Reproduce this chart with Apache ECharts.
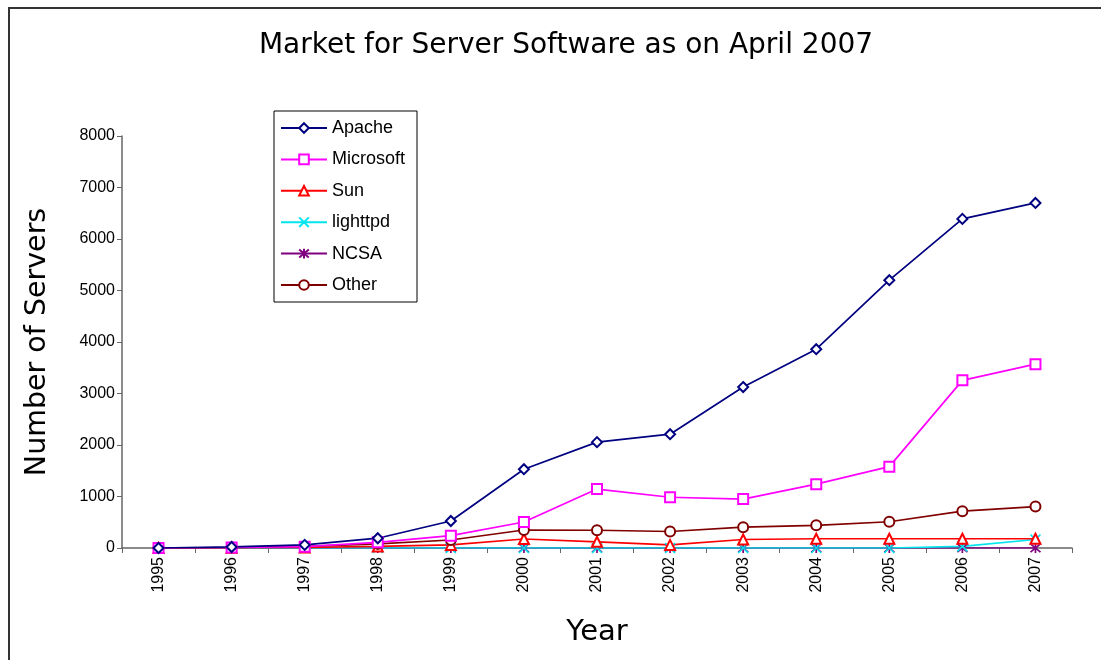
<!DOCTYPE html>
<html>
<head>
<meta charset="utf-8">
<script src="https://cdn.jsdelivr.net/npm/echarts@6/dist/echarts.min.js"></script>
<style>
  html, body { margin: 0; padding: 0; background: #fff; }
  #main { width: 1101px; height: 660px; }
</style>
</head>
<body>
<div id="main"></div>
<script>
// 年份
var years = ["1995", "1996", "1997", "1998", "1999", "2000", "2001", "2002", "2003", "2004", "2005", "2006", "2007"];

// 各服务器软件数量
var apache    = [0, 20, 60, 190, 525, 1530, 2055, 2210, 3125, 3860, 5200, 6390, 6700];
var microsoft = [0, 10, 25, 110, 240, 505, 1145, 985, 950, 1240, 1580, 3255, 3570];
var sun       = [0, 5, 10, 30, 60, 175, 120, 60, 165, 180, 180, 180, 180];
var lighttpd  = [0, 0, 0, 0, 0, 0, 0, 0, 0, 0, 0, 30, 165];
var ncsa      = [0, 0, 0, 0, 0, 0, 0, 0, 0, 0, 0, 0, 0];
var other     = [0, 10, 30, 80, 155, 350, 345, 320, 405, 440, 510, 715, 805];

var yTicks = [0, 1000, 2000, 3000, 4000, 5000, 6000, 7000, 8000];

var font = "Liberation Sans";
var wideFont = "DejaVu Sans";

function makeSeries(name, data, color, symbol) {
  return {
    name: name,
    type: "line",
    data: data,
    symbol: symbol,
    symbolSize: 10,
    showAllSymbol: true,
    lineStyle: { color: color, width: 1.7 },
    itemStyle: { color: color, borderColor: color, borderWidth: 1.7 },
    emphasis: { disabled: true },
  };
}

var crossPath = "path://M0,0L10,10M10,0L0,10";
var starPath = "path://M0,0L10,10M10,0L0,10M5,-1L5,11";

var myChart = echarts.init(document.getElementById("main"), null, { renderer: "canvas" });
var option = {
  backgroundColor: "#fff",
  animation: false,
  title: {
    text: "Market for Server Software as on April 2007",
    left: 561,
    top: 27,
    textAlign: "center",
    textStyle: { fontFamily: wideFont, fontSize: 28, fontWeight: "normal", color: "#000" },
  },
  legend: {
    orient: "vertical",
    left: 274,
    top: 111,
    padding: [8, 12, 8, 6],
    itemWidth: 46,
    itemHeight: 12,
    itemGap: 13.4,
    borderColor: "#000",
    borderWidth: 1,
    textStyle: { fontFamily: font, fontSize: 18, color: "#000" },
    data: ["Apache", "Microsoft", "Sun", "lighttpd", "NCSA", "Other"],
  },
  grid: { left: 122, right: 29, top: 136, bottom: 112, containLabel: false },
  xAxis: {
    type: "category",
    data: years,
    boundaryGap: true,
    name: "Year",
    nameLocation: "middle",
    nameGap: 70,
    nameTextStyle: { fontFamily: wideFont, fontSize: 29, color: "#000" },
    axisLine: { lineStyle: { color: "#666", width: 1.5 } },
    axisTick: { show: true, length: 5, lineStyle: { color: "#666" } },
    axisLabel: { rotate: 90, fontFamily: font, fontSize: 16, color: "#000", margin: 9 },
  },
  yAxis: {
    type: "value",
    min: yTicks[0],
    max: yTicks[yTicks.length - 1],
    interval: 1000,
    name: "Number of Servers",
    nameLocation: "middle",
    nameGap: 70,
    nameTextStyle: { fontFamily: wideFont, fontSize: 28.5, color: "#000" },
    axisLine: { show: true, lineStyle: { color: "#666", width: 1.5 } },
    axisTick: { show: true, length: 5, lineStyle: { color: "#666" } },
    splitLine: { show: false },
    axisLabel: {
      fontFamily: font,
      fontSize: 16,
      color: "#000",
      margin: 7,
      formatter: function (v) { return String(v); },
    },
  },
  graphic: [
    { type: "line", shape: { x1: 8, y1: 8, x2: 1101, y2: 8 }, style: { stroke: "#333", lineWidth: 2 } },
    { type: "line", shape: { x1: 9, y1: 8, x2: 9, y2: 660 }, style: { stroke: "#333", lineWidth: 2 } },
  ],
  series: [
    makeSeries("NCSA", ncsa, "#800080", starPath),
    makeSeries("lighttpd", lighttpd, "#00E5EE", crossPath),
    makeSeries("Sun", sun, "#FF0000", "emptyTriangle"),
    makeSeries("Other", other, "#800000", "emptyCircle"),
    makeSeries("Microsoft", microsoft, "#FF00FF", "emptyRect"),
    makeSeries("Apache", apache, "#000080", "emptyDiamond"),
  ],
};
option && myChart.setOption(option);
</script>
</body>
</html>
